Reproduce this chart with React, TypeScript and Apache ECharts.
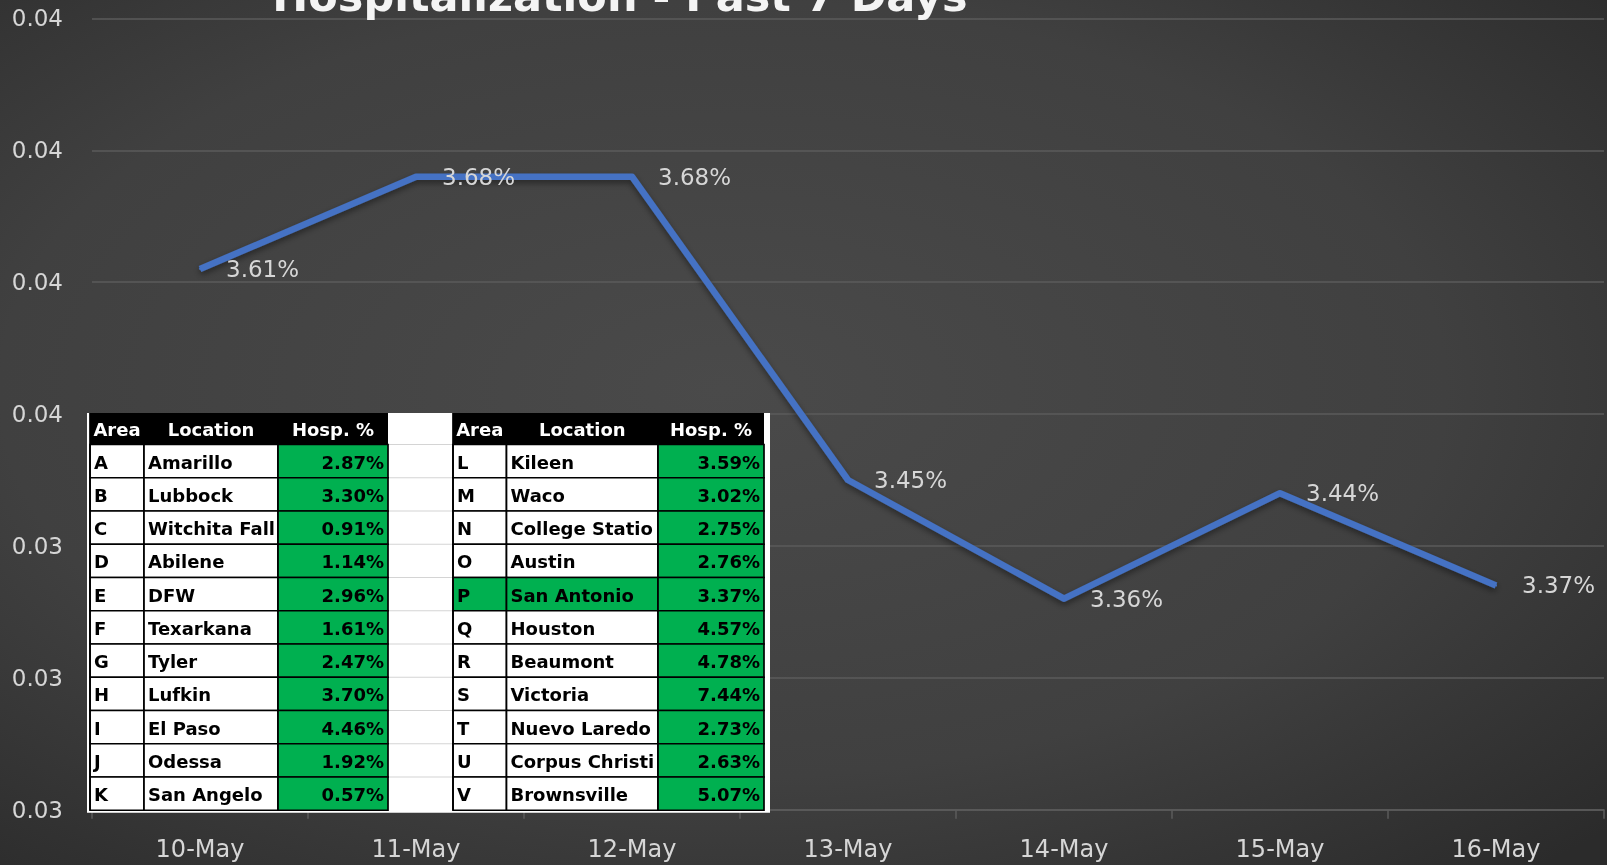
import React, { useEffect, useRef } from 'react';
import * as echarts from 'echarts';

// ---------- chart data ----------
const chartTitle = 'Hospitalization - Past 7 Days';
const dates = ['10-May', '11-May', '12-May', '13-May', '14-May', '15-May', '16-May'];
const hospRatePct = [3.61, 3.68, 3.68, 3.45, 3.36, 3.44, 3.37];
// y axis range in percent (ticks every 0.1 %)
const yMinPct = 3.2;
const yMaxPct = 3.8;
const yStepPct = 0.1;

// ---------- table data ----------
const tableHeaders = ['Area', 'Location', 'Hosp. %'];
const leftAreas = ['A', 'B', 'C', 'D', 'E', 'F', 'G', 'H', 'I', 'J', 'K'];
const leftLocations = ['Amarillo', 'Lubbock', 'Witchita Falls', 'Abilene', 'DFW', 'Texarkana', 'Tyler', 'Lufkin', 'El Paso', 'Odessa', 'San Angelo'];
const leftPcts = [2.87, 3.30, 0.91, 1.14, 2.96, 1.61, 2.47, 3.70, 4.46, 1.92, 0.57];
const rightAreas = ['L', 'M', 'N', 'O', 'P', 'Q', 'R', 'S', 'T', 'U', 'V'];
const rightLocations = ['Kileen', 'Waco', 'College Station', 'Austin', 'San Antonio', 'Houston', 'Beaumont', 'Victoria', 'Nuevo Laredo', 'Corpus Christi', 'Brownsville'];
const rightPcts = [3.59, 3.02, 2.75, 2.76, 3.37, 4.57, 4.78, 7.44, 2.73, 2.63, 5.07];
const highlightedAreas = ['P'];

// ---------- layout / style ----------
const W = 1607;
const H = 865;
const FONT = '"DejaVu Sans", "Liberation Sans", sans-serif';
const TXT = '#d6d6d6';
const GRID = '#5b5b5b';
const GREEN = '#00B050';
const TFS = 18;

const T_TOP = 413;
const T_HEAD_H = 31.5;
const T_ROW_H = 33.25;
const LEFT_COLS = [90, 144, 278, 388];
const RIGHT_COLS = [453, 506.5, 658, 764];
const TZ = 100;

function buildTable(cols: number[], areas: string[], locs: string[], pcts: number[]) {
  const els: any[] = [];
  const [x0, x1, x2, x3] = cols;
  const bottom = T_TOP + T_HEAD_H + areas.length * T_ROW_H;
  // header
  els.push({ type: 'rect', z: TZ, shape: { x: x0, y: T_TOP, width: x3 - x0, height: T_HEAD_H }, style: { fill: '#000' } });
  const heads = [[x0, x1], [x1, x2], [x2, x3]];
  tableHeaders.forEach((h, i) => {
    els.push({
      type: 'text',
      z: TZ + 2,
      x: (heads[i][0] + heads[i][1]) / 2,
      y: T_TOP + T_HEAD_H / 2 + 1,
      style: { text: h, fill: '#ffffff', fontSize: TFS, fontWeight: 'bold', fontFamily: FONT, align: 'center', verticalAlign: 'middle' },
    });
  });
  areas.forEach((a, r) => {
    const y = T_TOP + T_HEAD_H + r * T_ROW_H;
    const hl = highlightedAreas.includes(a);
    const cells = [
      { cx0: x0, cx1: x1, fill: hl ? GREEN : '#ffffff' },
      { cx0: x1, cx1: x2, fill: hl ? GREEN : '#ffffff' },
      { cx0: x2, cx1: x3, fill: GREEN },
    ];
    cells.forEach((c) => {
      els.push({
        type: 'rect',
        z: TZ + 1,
        shape: { x: c.cx0, y, width: c.cx1 - c.cx0, height: T_ROW_H },
        style: { fill: c.fill, stroke: '#000', lineWidth: 1.7 },
      });
    });
    const cy = y + T_ROW_H / 2 + 1;
    els.push({
      type: 'text', z: TZ + 2, x: x0 + 4, y: cy,
      style: { text: a, fill: '#000', fontSize: TFS, fontWeight: 'bold', fontFamily: FONT, align: 'left', verticalAlign: 'middle' },
    });
    els.push({
      type: 'text', z: TZ + 2, x: x1 + 4, y: cy,
      style: {
        text: locs[r], fill: '#000', fontSize: TFS, fontWeight: 'bold', fontFamily: FONT, align: 'left', verticalAlign: 'middle',
        width: x2 - x1 - 3, overflow: 'truncate', ellipsis: '',
      },
    });
    els.push({
      type: 'text', z: TZ + 2, x: x3 - 4, y: cy,
      style: { text: pcts[r].toFixed(2) + '%', fill: '#000', fontSize: TFS, fontWeight: 'bold', fontFamily: FONT, align: 'right', verticalAlign: 'middle' },
    });
  });
  // outer left line
  els.push({ type: 'line', z: TZ + 2, shape: { x1: x0, y1: T_TOP, x2: x0, y2: bottom }, style: { stroke: '#000', lineWidth: 1.7 } });
  return els;
}

function buildGap() {
  const els: any[] = [];
  const x0 = LEFT_COLS[3];
  const x1 = RIGHT_COLS[0];
  for (let r = 0; r < leftAreas.length; r++) {
    const y = T_TOP + T_HEAD_H + r * T_ROW_H;
    els.push({ type: 'line', z: TZ, shape: { x1: x0, y1: y, x2: x1, y2: y }, style: { stroke: '#d4d4d4', lineWidth: 1.2 } });
  }
  return els;
}

export default function App() {
  const ref = useRef<HTMLDivElement>(null);
  useEffect(() => {
    if (!ref.current) return;
    const chart = echarts.init(ref.current, null, { renderer: 'svg' });
    const scale = 100; // percent -> integer basis points
    const tableBottom = T_TOP + T_HEAD_H + leftAreas.length * T_ROW_H;
    const elements: any[] = [
      {
        type: 'text',
        x: 620,
        y: -4,
        z: 10,
        style: { text: chartTitle, fill: '#f4f4f4', fontSize: 43, fontWeight: 'bold', fontFamily: FONT, align: 'center', verticalAlign: 'middle' },
      },
      { type: 'rect', z: TZ - 1, shape: { x: 87, y: T_TOP, width: 770 - 87, height: tableBottom + 2.5 - T_TOP }, style: { fill: '#ffffff' } },
      ...buildGap(),
      ...buildTable(LEFT_COLS, leftAreas, leftLocations, leftPcts),
      ...buildTable(RIGHT_COLS, rightAreas, rightLocations, rightPcts),
    ];
    chart.setOption({
      animation: false,
      backgroundColor: {
        type: 'radial',
        x: 0.45,
        y: 0.45,
        r: 0.75,
        colorStops: [
          { offset: 0, color: '#4a4a4a' },
          { offset: 0.6, color: '#404040' },
          { offset: 1, color: '#2b2b2b' },
        ],
      },
      grid: { left: 92, right: 3, top: 18.4, bottom: 55.3, containLabel: false },
      xAxis: {
        type: 'category',
        data: dates,
        boundaryGap: true,
        axisLine: { show: true, lineStyle: { color: GRID, width: 1.5 } },
        axisTick: { show: true, interval: 0, length: 9, lineStyle: { color: GRID, width: 1.5 } },
        axisLabel: { color: TXT, fontSize: 24, fontFamily: FONT, margin: 27 },
        splitLine: { show: false },
      },
      yAxis: {
        type: 'value',
        min: Math.round(yMinPct * scale),
        max: Math.round(yMaxPct * scale),
        interval: Math.round(yStepPct * scale),
        axisLine: { show: false },
        axisTick: { show: false },
        axisLabel: {
          color: TXT,
          fontSize: 23,
          fontFamily: FONT,
          margin: 29,
          formatter: (v: number) => (v / scale / 100).toFixed(2),
        },
        splitLine: { show: true, lineStyle: { color: GRID, width: 1.5 } },
      },
      series: [
        {
          type: 'line',
          data: hospRatePct.map((v) => Math.round(v * scale)),
          symbol: 'circle',
          symbolSize: 2,
          showSymbol: true,
          itemStyle: { color: '#4472C4' },
          lineStyle: {
            color: '#4472C4',
            width: 6.5,
            join: 'round',
            shadowColor: 'rgba(0,0,0,0.45)',
            shadowBlur: 6,
            shadowOffsetY: 3,
          },
          label: {
            show: true,
            position: 'right',
            distance: 25,
            color: TXT,
            fontSize: 23,
            fontFamily: FONT,
            formatter: (p: any) => (p.value / scale).toFixed(2) + '%',
          },
          z: 5,
        },
      ],
      graphic: { elements },
    });
    return () => chart.dispose();
  }, []);
  return (
    <div
      ref={ref}
      style={{ position: 'fixed', left: 0, top: 0, width: W, height: H }}
    />
  );
}
